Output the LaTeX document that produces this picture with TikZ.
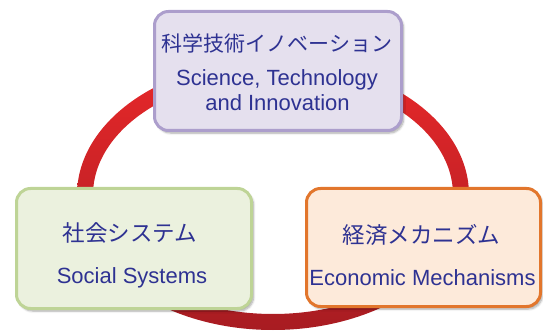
\documentclass[tikz,border=0pt]{standalone}
\usepackage{fontspec}
\setmainfont{Liberation Sans}
\newfontfamily\jp{Noto Sans CJK JP}
\usetikzlibrary{shadows.blur}
\definecolor{txt}{RGB}{46,50,146}
\definecolor{ringtop}{RGB}{232,40,42}
\definecolor{ringbot}{RGB}{168,28,34}
\definecolor{purfill}{RGB}{229,224,238}
\definecolor{purline}{RGB}{172,158,204}
\definecolor{grnfill}{RGB}{235,241,222}
\definecolor{grnline}{RGB}{190,212,150}
\definecolor{orgfill}{RGB}{253,234,218}
\definecolor{orgline}{RGB}{226,118,44}
\tikzset{
  box/.style={draw, line width=3pt, rounded corners=14pt, inner sep=0pt,
    blur shadow={shadow xshift=2pt, shadow yshift=-2.5pt, shadow blur steps=6, shadow opacity=35}},
  jptext/.style={anchor=base, text=txt, inner sep=0pt, font=\jp\fontsize{22.5}{26}\selectfont},
  entext/.style={anchor=base, text=txt, inner sep=0pt, font=\fontsize{22}{26}\selectfont},
}
\begin{document}
\begin{tikzpicture}[x=1pt,y=-1pt]
\useasboundingbox (0,0) rectangle (543,331);
% ring
\path[even odd rule, top color=ringtop, bottom color=ringbot]
  (273,195) ellipse [x radius=196pt, y radius=135pt]
  (273,195) ellipse [x radius=180pt, y radius=119pt];
% boxes
\node[box, fill=purfill, draw=purline, minimum width=247pt, minimum height=119pt] (sti) at (278,71) {};
\node[box, fill=grnfill, draw=grnline, minimum width=235pt, minimum height=120pt] (soc) at (134,248.5) {};
\node[box, fill=orgfill, draw=orgline, minimum width=234pt, minimum height=118pt] (eco) at (423.5,247.5) {};
% texts
\node[jptext, font=\jp\fontsize{21}{25}\selectfont] (stijp) at (277,52) {科学技術イノベーション};
\node[entext] (stien1) at (277,86) {Science, Technology};
\node[entext] (stien2) at (277.5,111) {and Innovation};
\node[jptext] (socjp) at (130,241.5) {社会システム};
\node[entext] (socen) at (132,283) {Social Systems};
\node[jptext] (ecojp) at (421.5,243.5) {経済メカニズム};
\node[entext] (ecoen) at (422.5,285) {Economic Mechanisms};
\end{tikzpicture}
\end{document}
